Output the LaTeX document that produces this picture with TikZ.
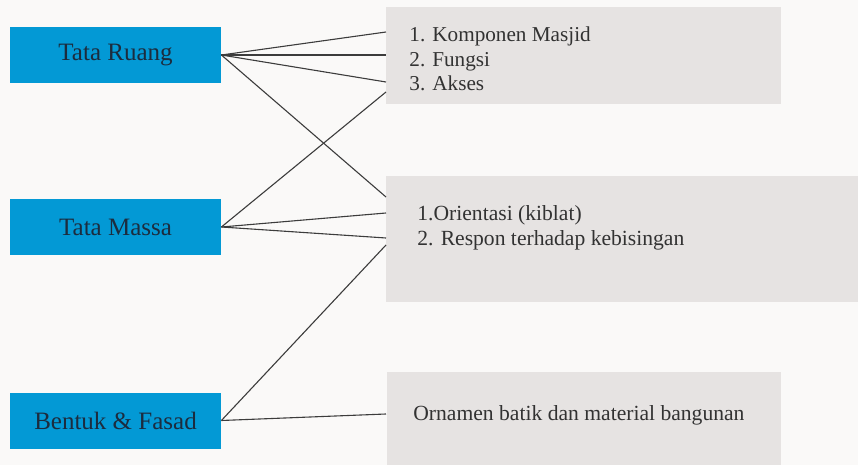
\documentclass[tikz,border=0pt]{standalone}
\usepackage{fontspec}
\setmainfont{Liberation Serif}
\usepackage{tikz}
\usetikzlibrary{positioning}
\definecolor{bgwhite}{RGB}{250,249,248}
\definecolor{aspekblue}{RGB}{3,153,213}
\definecolor{isigray}{RGB}{230,227,226}
\definecolor{labelnavy}{RGB}{28,44,62}
\definecolor{textgray}{RGB}{50,50,50}
\definecolor{linegray}{RGB}{60,60,60}

\begin{document}
\begin{tikzpicture}[x=0.5pt, y=-0.5pt,
    aspek/.style={fill=aspekblue, text=labelnavy, minimum width=105.5pt, minimum height=28pt, inner sep=0pt, font=\rmfamily\fontsize{12.5}{15}\selectfont},
    isi/.style={fill=isigray, inner sep=0pt},
    isitext/.style={anchor=west, text=textgray, align=left, inner sep=0pt, font=\rmfamily\fontsize{10.8}{12.2}\selectfont},
    link/.style={linegray, line width=0.55pt}]
    \fill [bgwhite] (0, 0) rectangle (858, 465);
    \useasboundingbox (0, 0) rectangle (858, 465);

    \node [aspek] (ruang) at (115.5, 55) {Tata Ruang};
    \node [aspek] (massa) at (115.5, 227) {Tata Massa};
    \node [aspek] (fasad) at (115.5, 420.5) {Bentuk \& Fasad};

    \node [isi, minimum width=197.5pt, minimum height=48.5pt] (komponen) at (583.5, 55.5) {};
    \node [isi, minimum width=236pt, minimum height=63pt] (orientasi) at (622, 239) {};
    \node [isi, minimum width=197pt, minimum height=46.5pt] (ornamen) at (583.5, 418.5) {};

    \node [isitext, font=\rmfamily\fontsize{10.6}{12.2}\selectfont] (komponentext) at (409, 59) {1. Komponen Masjid\\2. Fungsi\\3. Akses};
    \node [isitext] (orientasitext) at (417, 228) {1.Orientasi (kiblat)\\2. Respon terhadap kebisingan};
    \node [isitext] (ornamentext) at (413, 415) {Ornamen batik dan material bangunan};

    % ujung garis di sisi kiri kotak isi
    \coordinate (k1) at (386, 32);
    \coordinate (k2) at (386, 55);
    \coordinate (k3) at (386, 82);
    \coordinate (k4) at (386, 92);
    \coordinate (o1) at (386, 197);
    \coordinate (o2) at (386, 213);
    \coordinate (o3) at (386, 238);
    \coordinate (o4) at (386, 245);
    \coordinate (n1) at (386, 414);

    \draw [link] (ruang.east) -- (k1);
    \draw [link] (ruang.east) -- (k2);
    \draw [link] (ruang.east) -- (k3);
    \draw [link] (ruang.east) -- (o1);
    \draw [link] (massa.east) -- (k4);
    \draw [link] (massa.east) -- (o2);
    \draw [link] (massa.east) -- (o3);
    \draw [link] (fasad.east) -- (o4);
    \draw [link] (fasad.east) -- (n1);
\end{tikzpicture}
\end{document}
